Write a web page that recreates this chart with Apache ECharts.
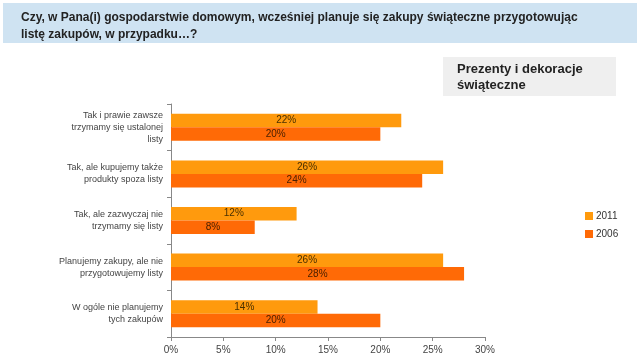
<!DOCTYPE html>
<html><head><meta charset="utf-8">
<script src="https://cdn.jsdelivr.net/npm/echarts@6/dist/echarts.min.js"></script>
<style>html,body{margin:0;padding:0;background:#fff}#c{width:640px;height:359px}</style>
</head><body><div id="c"></div>
<script>
const categories = ["Tak i prawie zawsze\ntrzymamy się ustalonej\nlisty","Tak, ale kupujemy także\nprodukty spoza listy","Tak, ale zazwyczaj nie\ntrzymamy się listy","Planujemy zakupy, ale nie\nprzygotowujemy listy","W ogóle nie planujemy\ntych zakupów"];
const seriesNames = ["2011","2006"];
const values2011 = [22,26,12,26,14];
const values2006 = [20,24,8,28,20];
const chart = echarts.init(document.getElementById('c'), null, {renderer:'canvas'});
const font = 'Liberation Sans, Arial, sans-serif';
chart.setOption({
  animation:false,
  graphic:[
    {type:'rect',shape:{x:3,y:3,width:634,height:40},style:{fill:'#cfe3f2'},silent:true},
    {type:'text',left:21,top:9,style:{text:'Czy, w Pana(i) gospodarstwie domowym, wcześniej planuje się zakupy świąteczne przygotowując\nlistę zakupów, w przypadku…?',font:'bold 12px '+font,fill:'#222',lineHeight:17}},
    {type:'rect',shape:{x:443,y:57,width:173,height:39},style:{fill:'#efefef'},silent:true},
    {type:'text',left:457,top:61,style:{text:'Prezenty i dekoracje\nświąteczne',font:'bold 13px '+font,fill:'#222',lineHeight:16}}
  ],
  legend:{orient:'vertical',left:580,top:206,itemWidth:8,itemHeight:8,itemGap:8,icon:'rect',
    textStyle:{fontFamily:font,fontSize:10,color:'#333',padding:[0,0,0,-2]},data:seriesNames},
  grid:{left:171,right:155,top:104,bottom:22},
  xAxis:{type:'value',min:0,max:30,interval:5,
    axisLine:{show:true,lineStyle:{color:'#888'}},
    axisTick:{show:true,length:4,lineStyle:{color:'#888'}},
    splitLine:{show:false},
    axisLabel:{formatter:'{value}%',fontFamily:font,fontSize:10,color:'#444',margin:8}},
  yAxis:{type:'category',inverse:true,data:categories,
    axisLine:{show:true,lineStyle:{color:'#888'}},
    axisTick:{show:true,length:4,lineStyle:{color:'#888'}},
    axisLabel:{fontFamily:font,fontSize:9,color:'#444',lineHeight:12,margin:8,align:'right'}},
  series:[
    {name:'2011',type:'bar',data:values2011,itemStyle:{color:'#FF9A0D'},barGap:'0%',barCategoryGap:'42%',
      label:{show:true,position:'inside',formatter:'{c}%',fontFamily:font,fontSize:10,color:'#4a3000'}},
    {name:'2006',type:'bar',data:values2006,itemStyle:{color:'#FF6A06'},
      label:{show:true,position:'inside',formatter:'{c}%',fontFamily:font,fontSize:10,color:'#4a2000'}}
  ]
});
</script></body></html>
